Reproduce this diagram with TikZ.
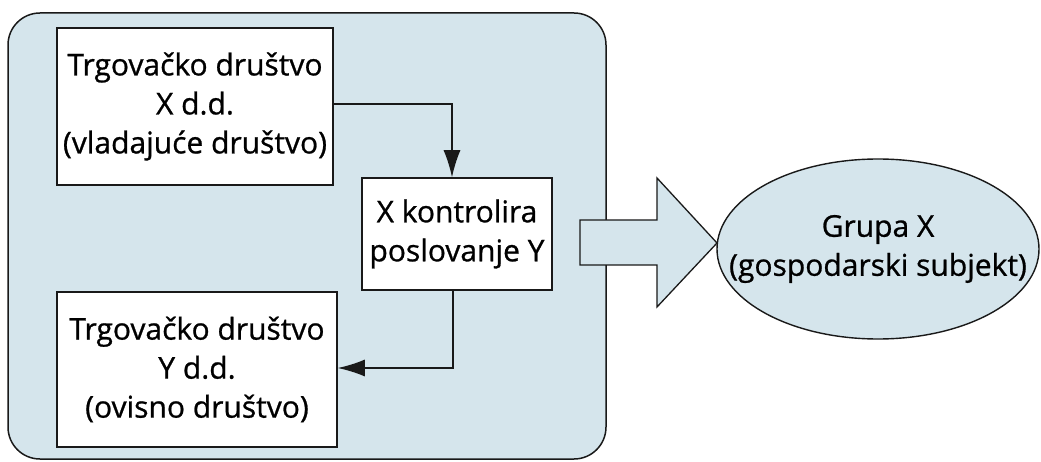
\documentclass[tikz,border=0pt]{standalone}
\usepackage{fontspec}
\newfontfamily\labfont{Open Sans}[UprightFeatures={FakeBold=0.8}]
\usetikzlibrary{arrows.meta,shapes.geometric}
\definecolor{bgblue}{HTML}{D5E5EC}
\begin{document}
\begin{tikzpicture}[x=1pt,y=-1pt,
  box/.style={draw=black!90,line width=1.5pt,fill=white,align=center,
    font=\labfont\fontsize{30}{39}\selectfont,inner sep=0pt},
  conn/.style={draw=black!90,line width=1.4pt,-{Latex[length=27pt,width=17pt]}},
  lbl/.style={font=\labfont\fontsize{30}{39}\selectfont,align=center}]
\useasboundingbox (0,0) rectangle (1041,462);
\fill[white] (0,0) rectangle (1041,462);
% outer group
\draw[fill=bgblue,draw=black!90,line width=1.5pt,rounded corners=32pt] (8,13) rectangle (606,459);
% boxes
\node[box,minimum width=276pt,minimum height=157pt] (a) at (195,106.5) {Trgovačko društvo\\X d.d.\\(vladajuće društvo)};
\node[box,minimum width=190pt,minimum height=112pt] (b) at (457,234) {X kontrolira\\poslovanje Y};
\node[box,minimum width=280pt,minimum height=155pt] (c) at (197,369.5) {Trgovačko društvo\\Y d.d.\\(ovisno društvo)};
% connectors
\coordinate (k1) at (452,104);
\coordinate (k2) at (453,368);
\draw[conn] (a.east |- k1) -- (k1) -- (k1 |- b.north);
\draw[conn] (k2 |- b.south) -- (k2) -- (k2 -| c.east);
% block arrow
\draw[fill=bgblue,draw=black!90,line width=1.3pt,line join=miter]
  (580,220) -- (657,220) -- (657,178) -- (717,243) -- (657,307) -- (657,265) -- (580,265) -- cycle;
% ellipse
\node[ellipse,draw=black!90,line width=1.4pt,fill=bgblue,minimum width=322pt,minimum height=180pt,inner sep=0pt] (g) at (878,249) {};
\node[lbl] (gt) at (g.center) {Grupa X\\(gospodarski subjekt)};
\end{tikzpicture}
\end{document}
